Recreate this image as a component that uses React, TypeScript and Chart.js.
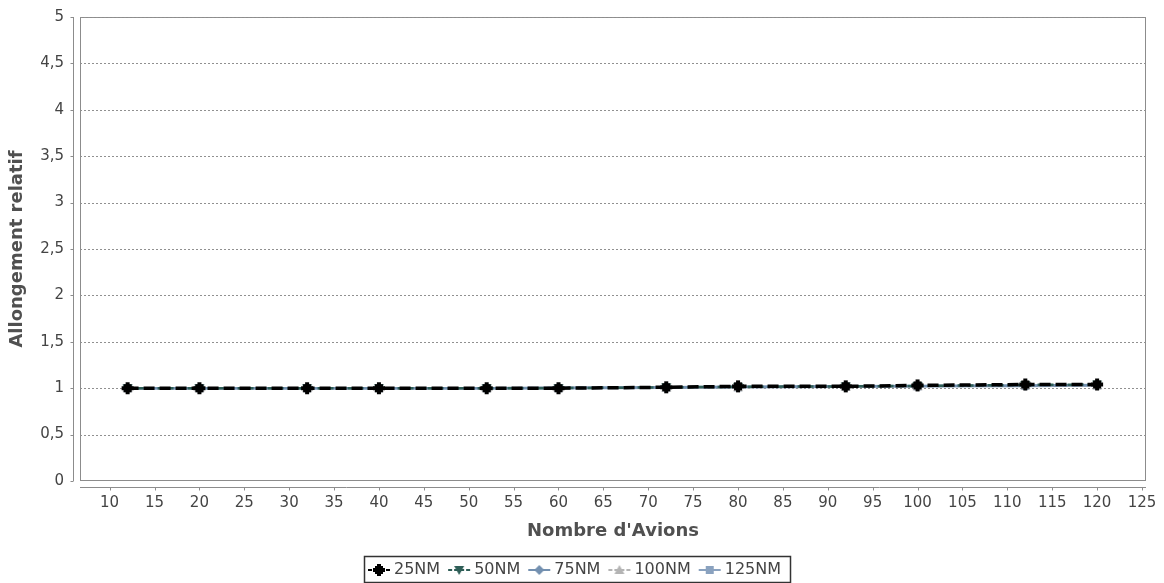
import { useEffect, useRef } from "react";
import { Chart, registerables } from "chart.js";

Chart.register(...registerables);

// ---- data ----
const seriesLabels = ["25NM", "50NM", "75NM", "100NM", "125NM"];
const nombreAvions = [12, 20, 32, 40, 52, 60, 72, 80, 92, 100, 112, 120];
const allong25 = [1.0, 1.0, 1.0, 1.0, 1.0, 1.0, 1.01, 1.02, 1.02, 1.03, 1.04, 1.04];
const allong50 = [1.0, 1.0, 1.0, 1.0, 1.0, 1.0, 1.01, 1.015, 1.02, 1.025, 1.035, 1.04];
const allong75 = [1.0, 1.0, 1.0, 1.0, 1.0, 1.005, 1.01, 1.015, 1.02, 1.025, 1.03, 1.035];
const allong100 = [1.0, 1.0, 1.0, 1.0, 1.0, 1.005, 1.005, 1.01, 1.015, 1.02, 1.03, 1.03];
const allong125 = [1.0, 1.0, 1.0, 1.0, 1.0, 1.0, 1.005, 1.01, 1.015, 1.02, 1.025, 1.03];
const xTickValues = [10, 15, 20, 25, 30, 35, 40, 45, 50, 55, 60, 65, 70, 75, 80, 85, 90, 95, 100, 105, 110, 115, 120, 125];
const yTickValues = [0, 0.5, 1, 1.5, 2, 2.5, 3, 3.5, 4, 4.5, 5];
const yTickLabels = ["0", "0,5", "1", "1,5", "2", "2,5", "3", "3,5", "4", "4,5", "5"];

const seriesValues = [allong25, allong50, allong75, allong100, allong125];
const seriesColors = ["#000000", "#2e5e57", "#7390b0", "#b4b4b4", "#8aa2bf"];
const seriesMarkers = ["cross", "triangleDown", "diamond", "triangle", "square"];
const seriesDashes = [[11, 5], [6, 4], [], [6, 4], []];

const FONT = "'DejaVu Sans', sans-serif";
const TEXT = "#444444";
const AXIS = "#8c8c8c";

function makeMarker(kind: string, color: string): HTMLCanvasElement {
  const c = document.createElement("canvas");
  c.width = 14;
  c.height = 14;
  const g = c.getContext("2d")!;
  g.fillStyle = color;
  const m = 7;
  g.beginPath();
  if (kind === "cross") {
    g.fillRect(m - 6, m - 2, 12, 4);
    g.fillRect(m - 2, m - 6, 4, 12);
    g.fillRect(m - 4, m - 4, 8, 8);
  } else if (kind === "triangleDown") {
    g.moveTo(m - 5, m - 4);
    g.lineTo(m + 5, m - 4);
    g.lineTo(m, m + 5);
    g.closePath();
    g.fill();
  } else if (kind === "diamond") {
    g.moveTo(m, m - 5);
    g.lineTo(m + 5, m);
    g.lineTo(m, m + 5);
    g.lineTo(m - 5, m);
    g.closePath();
    g.fill();
  } else if (kind === "triangle") {
    g.moveTo(m - 5, m + 4);
    g.lineTo(m + 5, m + 4);
    g.lineTo(m, m - 5);
    g.closePath();
    g.fill();
  } else {
    g.fillRect(m - 4, m - 4, 8, 8);
  }
  return c;
}

const framePlugin = {
  id: "frame",
  beforeDatasetsDraw(chart: any) {
    const { ctx, chartArea: a, scales } = chart;
    const xs = scales.x;
    const ys = scales.y;
    ctx.save();
    ctx.strokeStyle = AXIS;
    ctx.lineWidth = 1;
    ctx.strokeRect(Math.round(a.left) + 0.5, Math.round(a.top) + 0.5, a.right - a.left - 1, a.bottom - a.top - 1);
    ctx.setLineDash([2, 2]);
    ctx.strokeStyle = "#909090";
    yTickValues.forEach((v) => {
      if (v === 0) return;
      const py = Math.round(ys.getPixelForValue(v)) + 0.5;
      ctx.beginPath();
      ctx.moveTo(a.left, py);
      ctx.lineTo(a.right, py);
      ctx.stroke();
    });
    ctx.setLineDash([]);
    ctx.strokeStyle = AXIS;
    const ax = Math.round(a.left) - 7 + 0.5;
    ctx.beginPath();
    ctx.moveTo(ax, a.top);
    ctx.lineTo(ax, a.bottom);
    yTickValues.forEach((v) => {
      const py = Math.round(ys.getPixelForValue(v)) + 0.5;
      ctx.moveTo(ax - 3, py);
      ctx.lineTo(ax, py);
    });
    ctx.stroke();
    const ay = Math.round(a.bottom) + 6 + 0.5;
    ctx.beginPath();
    ctx.moveTo(a.left, ay);
    ctx.lineTo(a.right, ay);
    xTickValues.forEach((v) => {
      const px = Math.round(xs.getPixelForValue(v)) + 0.5;
      ctx.moveTo(px, ay);
      ctx.lineTo(px, ay + 3);
    });
    ctx.stroke();
    ctx.restore();
  },
  afterDraw(chart: any) {
    const { ctx } = chart;
    const datasets = chart.data.datasets;
    ctx.save();
    ctx.font = `16px ${FONT}`;
    const iconW = 22;
    const gapIconText = 4;
    const gapItems = 8;
    const padX = 4;
    const widths = datasets.map((d: any) => iconW + gapIconText + ctx.measureText(d.label).width);
    const total = widths.reduce((s: number, w: number) => s + w, 0) + gapItems * (datasets.length - 1) + padX * 2;
    const boxLeft = 364;
    const boxTop = 556;
    const boxH = 26;
    ctx.strokeStyle = "#333333";
    ctx.lineWidth = 1.5;
    ctx.strokeRect(boxLeft + 0.5, boxTop + 0.5, Math.max(total, 426), boxH);
    let x = boxLeft + padX;
    const cy = boxTop + boxH / 2 + 1;
    datasets.forEach((d: any, i: number) => {
      ctx.strokeStyle = d.borderColor;
      ctx.lineWidth = 2;
      ctx.setLineDash(d.borderDash && d.borderDash.length ? [4, 2] : []);
      ctx.beginPath();
      ctx.moveTo(x, cy);
      ctx.lineTo(x + iconW, cy);
      ctx.stroke();
      ctx.setLineDash([]);
      const img = d.pointStyle as HTMLCanvasElement;
      ctx.drawImage(img, x + iconW / 2 - img.width / 2, cy - img.height / 2);
      ctx.fillStyle = TEXT;
      ctx.textBaseline = "middle";
      ctx.textAlign = "left";
      ctx.fillText(d.label, x + iconW + gapIconText, cy);
      x += widths[i] + gapItems;
    });
    ctx.restore();
  },
};

export default function App() {
  const ref = useRef<HTMLCanvasElement | null>(null);
  useEffect(() => {
    document.body.style.margin = "0";
    const canvas = ref.current!;
    const datasets = seriesLabels.map((label, i) => ({
      label,
      data: nombreAvions.map((n, j) => ({ x: n, y: seriesValues[i][j] })),
      borderColor: seriesColors[i],
      backgroundColor: seriesColors[i],
      borderWidth: i === 0 ? 3.5 : 2.5,
      borderDash: seriesDashes[i],
      pointStyle: makeMarker(seriesMarkers[i], seriesColors[i]),
      pointRadius: 6,
      tension: 0,
    }));
    const chart = new Chart(canvas, {
      type: "line",
      data: { datasets },
      plugins: [framePlugin],
      options: {
        animation: false,
        responsive: false,
        layout: { padding: { left: 0, top: 17, right: 18, bottom: 0 } },
        plugins: { legend: { display: false }, tooltip: { enabled: false } },
        scales: {
          x: {
            type: "linear",
            min: 6.7,
            max: 125.45,
            grid: { display: false, drawTicks: false },
            border: { display: false },
            afterBuildTicks: (s: any) => {
              s.ticks = xTickValues.map((v) => ({ value: v }));
            },
            afterFit: (s: any) => {
              s.height = 102;
              s.paddingLeft = 0;
              s.paddingRight = 0;
              s.paddingTop = 0;
              s.paddingBottom = 0;
            },
            ticks: {
              padding: 13,
              maxRotation: 0,
              autoSkip: false,
              color: TEXT,
              font: { family: FONT, size: 15 },
              callback: (v: any) => String(v),
            },
            title: {
              display: true,
              text: "Nombre d'Avions",
              color: "#505050",
              font: { family: FONT, size: 18, weight: "bold" },
              padding: { top: 0, bottom: 41 },
            },
          },
          y: {
            type: "linear",
            min: 0,
            max: 5,
            grid: { display: false, drawTicks: false },
            border: { display: false },
            afterBuildTicks: (s: any) => {
              s.ticks = yTickValues.map((v) => ({ value: v }));
            },
            afterFit: (s: any) => {
              s.width = 80;
              s.paddingLeft = 0;
              s.paddingRight = 0;
              s.paddingTop = 0;
              s.paddingBottom = 0;
            },
            ticks: {
              padding: 16,
              color: TEXT,
              font: { family: FONT, size: 15 },
              callback: (_v: any, idx: number) => yTickLabels[idx],
            },
            title: {
              display: true,
              text: "Allongement relatif",
              color: "#505050",
              font: { family: FONT, size: 18, weight: "bold" },
              padding: { top: 7, bottom: 0 },
            },
          },
        },
      },
    });
    return () => chart.destroy();
  }, []);
  return (
    <div style={{ width: 1164, height: 583 }}>
      <canvas ref={ref} width={1164} height={583} style={{ display: "block" }} />
    </div>
  );
}
